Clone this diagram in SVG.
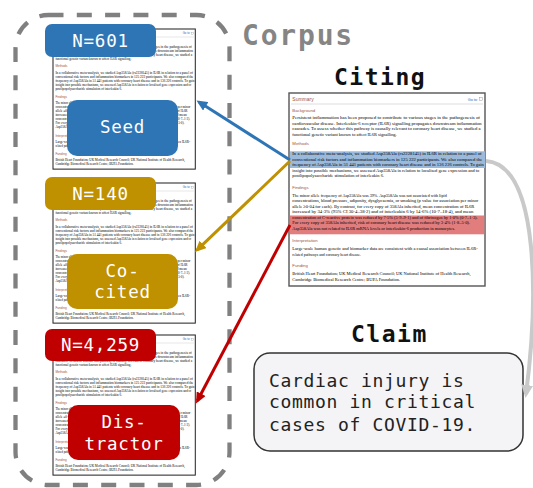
<svg xmlns="http://www.w3.org/2000/svg" xmlns:xlink="http://www.w3.org/1999/xlink" width="533" height="488" viewBox="0 0 533 488">
<defs>
<style>
.body{font-family:"Liberation Serif",serif;font-size:4.8px;fill:#000}
.hd{font-family:"Liberation Sans",sans-serif;font-size:4.3px;fill:#a5543a}
.lbl{font-family:"DejaVu Sans Mono",monospace;font-size:17.5px;letter-spacing:0.76px;fill:#fff;text-anchor:middle}
.ttl{font-family:"DejaVu Sans Mono",monospace;font-weight:bold;font-size:23px;letter-spacing:1.5px;fill:#111}
.claim{font-family:"DejaVu Sans Mono",monospace;font-size:18px;letter-spacing:0.66px;fill:#222}
.smalldoc{fill:#fff;stroke:#222;stroke-width:1.4}
.conn{fill:none;stroke-width:3}
</style>
<marker id="ah-blue" markerUnits="userSpaceOnUse" markerWidth="12" markerHeight="10" refX="8" refY="5" orient="auto"><path d="M0,0 L11,5 L0,10 z" fill="#2e75b6"/></marker>
<marker id="ah-gold" markerUnits="userSpaceOnUse" markerWidth="12" markerHeight="10" refX="8" refY="5" orient="auto"><path d="M0,0 L11,5 L0,10 z" fill="#bf9000"/></marker>
<marker id="ah-red" markerUnits="userSpaceOnUse" markerWidth="12" markerHeight="10" refX="8" refY="5" orient="auto"><path d="M0,0 L11,5 L0,10 z" fill="#c00000"/></marker>
<marker id="ah-gray" markerUnits="userSpaceOnUse" markerWidth="14" markerHeight="12" refX="9" refY="6" orient="auto"><path d="M0,0 L13,6 L0,12 z" fill="#c9c9c9"/></marker>
<g id="doctext">
<text x="3.3" y="7.7" class="hd" style="font-size:5px">Summary</text>
<text x="178.7" y="7.5" style="font-family:'Liberation Sans',sans-serif;font-size:3.8px;fill:#3366bb">Go to:</text>
<rect x="190.3" y="4.6" width="3" height="3" fill="none" stroke="#888" stroke-width="0.4"/>
<line x1="2" y1="11" x2="194" y2="11" stroke="#bbb" stroke-width="0.5"/>
<text x="3.3" y="19" class="hd">Background</text>
<text class="body" x="3.3" y="26" textLength="187.7" lengthAdjust="spacingAndGlyphs">Persistent inflammation has been proposed to contribute to various stages in the pathogenesis of</text>
<text class="body" x="3.3" y="31.6" textLength="189.4" lengthAdjust="spacingAndGlyphs">cardiovascular disease. Interleukin-6 receptor (IL6R) signalling propagates downstream inflammation</text>
<text class="body" x="3.3" y="37.2" textLength="188.4" lengthAdjust="spacingAndGlyphs">cascades. To assess whether this pathway is causally relevant to coronary heart disease, we studied a</text>
<text class="body" x="3.3" y="42.8" textLength="104.4" lengthAdjust="spacingAndGlyphs">functional genetic variant known to affect IL6R signalling.</text>
<text x="3.3" y="52.3" class="hd">Methods</text>
<text class="body" x="3.3" y="62" textLength="189.4" lengthAdjust="spacingAndGlyphs">In a collaborative meta-analysis, we studied Asp358Ala (rs2228145) in IL6R in relation to a panel of</text>
<text class="body" x="3.3" y="67.5" textLength="190" lengthAdjust="spacingAndGlyphs">conventional risk factors and inflammation biomarkers in 125 222 participants. We also compared the</text>
<text class="body" x="3.3" y="73" textLength="191.5" lengthAdjust="spacingAndGlyphs">frequency of Asp358Ala in 51 441 patients with coronary heart disease and in 136 226 controls. To gain</text>
<text class="body" x="3.3" y="78.6" textLength="187" lengthAdjust="spacingAndGlyphs">insight into possible mechanisms, we assessed Asp358Ala in relation to localised gene expression and to</text>
<text class="body" x="3.3" y="84.2" textLength="91.7" lengthAdjust="spacingAndGlyphs">postlipopolysaccharide stimulation of interleukin 6.</text>
<text x="3.3" y="95.5" class="hd">Findings</text>
<text class="body" x="3.3" y="103.5" textLength="154.4" lengthAdjust="spacingAndGlyphs">The minor allele frequency of Asp358Ala was 39%. Asp358Ala was not associated with lipid</text>
<text class="body" x="3.3" y="109" textLength="186" lengthAdjust="spacingAndGlyphs">concentrations, blood pressure, adiposity, dysglycaemia, or smoking (p value for association per minor</text>
<text class="body" x="3.3" y="114.5" textLength="182" lengthAdjust="spacingAndGlyphs">allele ≥0·04 for each). By contrast, for every copy of 358Ala inherited, mean concentration of IL6R</text>
<text class="body" x="3.3" y="120" textLength="181" lengthAdjust="spacingAndGlyphs">increased by 34·3% (95% CI 30·4–38·2) and of interleukin 6 by 14·6% (10·7–18·4), and mean</text>
<text class="body" x="3.3" y="125.5" textLength="185.4" lengthAdjust="spacingAndGlyphs">concentration of C-reactive protein was reduced by 7·5% (5·9–9·1) and of fibrinogen by 1·0% (0·7–1·3).</text>
<text class="body" x="3.3" y="131" textLength="177.7" lengthAdjust="spacingAndGlyphs">For every copy of 358Ala inherited, risk of coronary heart disease was reduced by 3·4% (1·8–5·0).</text>
<text class="body" x="3.3" y="136.5" textLength="162.7" lengthAdjust="spacingAndGlyphs">Asp358Ala was not related to IL6R mRNA levels or interleukin-6 production in monocytes.</text>
<text x="3.3" y="149" class="hd">Interpretation</text>
<text class="body" x="3.3" y="157" textLength="185.4" lengthAdjust="spacingAndGlyphs">Large-scale human genetic and biomarker data are consistent with a causal association between IL6R-</text>
<text class="body" x="3.3" y="162.5" textLength="68.7" lengthAdjust="spacingAndGlyphs">related pathways and coronary heart disease.</text>
<text x="3.3" y="173.7" class="hd">Funding</text>
<text class="body" x="3.3" y="182" textLength="178.4" lengthAdjust="spacingAndGlyphs">British Heart Foundation; UK Medical Research Council; UK National Institute of Health Research,</text>
<text class="body" x="3.3" y="187.5" textLength="107.7" lengthAdjust="spacingAndGlyphs">Cambridge Biomedical Research Centre; BUPA Foundation.</text>
</g>
</defs>

<g id="corpus">
<rect x="15.5" y="15" width="214" height="470" rx="33" fill="none" stroke="#808080" stroke-width="4.3" stroke-dasharray="15 13.3"/>
<text x="242" y="45" class="ttl" style="font-size:28px;letter-spacing:1.8px;fill:#858585">Corpus</text>
</g>

<g id="seed">
<g transform="translate(53,29) scale(0.726)"><rect width="196" height="193" class="smalldoc"/><use xlink:href="#doctext"/></g>
<rect x="45" y="24" width="111" height="33" rx="7" fill="#2e75b6"/>
<text x="100.5" y="46.7" class="lbl">N=601</text>
<rect x="67" y="100" width="111" height="56" rx="10" fill="#2e75b6"/>
<text x="122.5" y="133.3" class="lbl">Seed</text>
</g>

<g id="cocited">
<g transform="translate(53,183) scale(0.726)"><rect width="196" height="193" class="smalldoc"/><use xlink:href="#doctext"/></g>
<rect x="45" y="177" width="111" height="33" rx="7" fill="#bf9000"/>
<text x="100.5" y="200" class="lbl">N=140</text>
<rect x="67" y="254" width="111" height="55" rx="10" fill="#bf9000"/>
<text x="122.5" y="276.7" class="lbl">Co-</text>
<text x="122.5" y="298.3" class="lbl">cited</text>
</g>

<g id="distractor">
<g transform="translate(53,335) scale(0.726)"><rect width="196" height="193" class="smalldoc"/><use xlink:href="#doctext"/></g>
<rect x="45" y="329" width="111" height="32" rx="7" fill="#c00000"/>
<text x="100.5" y="350.7" class="lbl">N=4,259</text>
<rect x="68" y="405" width="112" height="55" rx="10" fill="#c00000"/>
<text x="124" y="428.3" class="lbl">Dis-</text>
<text x="124" y="450" class="lbl">tractor</text>
</g>

<g id="citing">
<text x="334" y="85" class="ttl">Citing</text>
<g transform="translate(289,93)">
<rect width="196" height="193" fill="#fff" stroke="#555" stroke-width="1.4"/>
<rect x="1" y="58.3" width="195" height="16.7" fill="#9bbadb"/>
<rect x="1" y="122.5" width="194.3" height="18.8" fill="#e27d7d"/>
<use xlink:href="#doctext"/>
</g>
</g>

<g id="claim">
<text x="351" y="341.7" class="ttl">Claim</text>
<rect x="254" y="353" width="269" height="98" rx="16" fill="#f4f3f6" stroke="#333" stroke-width="1.5"/>
<text x="269" y="386.7" class="claim">Cardiac injury is</text>
<text x="269" y="408.3" class="claim">common in critical</text>
<text x="269" y="431" class="claim">cases of COVID-19.</text>
</g>

<g id="connectors">
<path d="M290,160 L199,102.1" class="conn" stroke="#2e75b6" marker-end="url(#ah-blue)"/>
<path d="M290,161 L197.2,249.9" class="conn" stroke="#bf9000" marker-end="url(#ah-gold)"/>
<path d="M290,225 L197.4,400.8" class="conn" stroke="#c00000" marker-end="url(#ah-red)"/>
<path d="M486,161 C540,165 538,302 526,394" fill="none" stroke="#c9c9c9" stroke-width="4" marker-end="url(#ah-gray)"/>
</g>
</svg>
